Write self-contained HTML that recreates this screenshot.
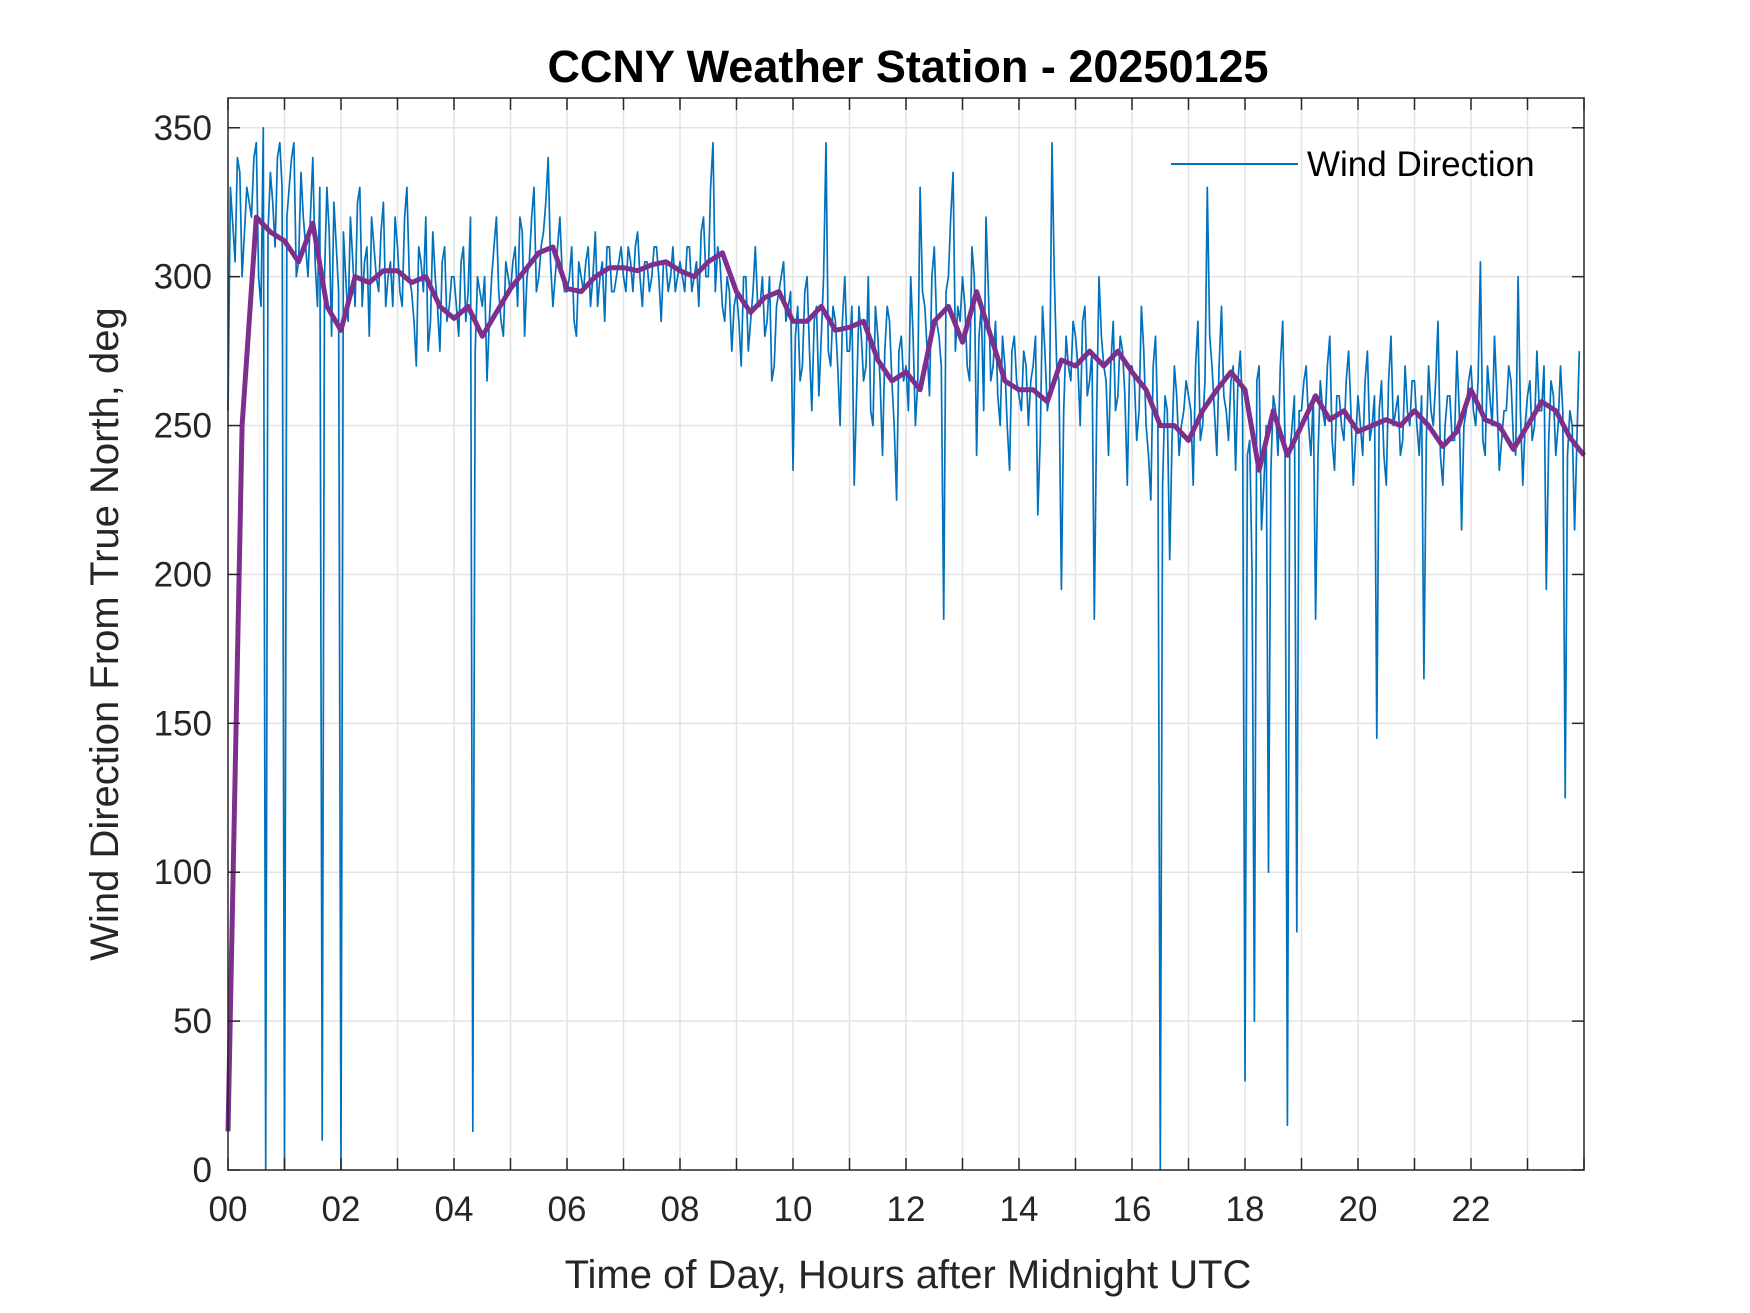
<!DOCTYPE html>
<html><head><meta charset="utf-8"><style>
html,body{margin:0;padding:0;background:#fff;}
svg{display:block;font-family:"Liberation Sans",Arial,sans-serif;}
</style></head><body>
<svg id="chart" width="1750" height="1313" viewBox="0 0 1750 1313" xmlns="http://www.w3.org/2000/svg">
<rect width="1750" height="1313" fill="#fff"/>
<text x="908" y="82" text-anchor="middle" font-size="45" font-weight="bold" fill="#000">CCNY Weather Station - 20250125</text>
<g id="grid"></g>
<g id="series"></g>
<g id="axes"></g>
<text x="908" y="1288" text-anchor="middle" font-size="40" fill="#262626">Time of Day, Hours after Midnight UTC</text>
<text transform="translate(118,634) rotate(-90)" text-anchor="middle" font-size="40" fill="#262626">Wind Direction From True North, deg</text>
<g>
<line x1="1171" y1="164" x2="1298" y2="164" stroke="#0072BD" stroke-width="2"/>
<text x="1307" y="176" font-size="35" fill="#000">Wind Direction</text>
</g>
</svg>
<script>
const rawValues = [
255,318,340,300,330,320,345,290,0,335,310,345,
0,330,345,305,320,300,340,290,10,330,280,310,
0,300,320,290,330,305,280,310,295,325,300,290,
310,290,330,295,270,305,320,285,300,275,310,290,
300,280,310,295,13,300,290,265,300,320,285,305,
295,310,320,280,305,330,300,315,340,290,310,300,
295,310,280,300,305,290,315,300,285,310,295,305,
300,310,295,315,290,305,300,310,285,305,300,295,
305,295,310,300,290,320,300,345,310,290,300,275,
295,270,300,285,310,290,280,300,270,295,305,290,
235,290,270,300,255,290,280,345,270,285,250,300,
275,230,290,265,300,250,280,240,290,265,225,280,
270,300,250,330,290,260,310,280,185,300,335,290,
300,270,310,240,290,320,265,285,250,270,235,280,
260,275,250,270,220,290,255,345,270,195,280,265,
280,250,290,265,185,300,270,240,285,260,275,230,
270,245,290,250,225,280,0,260,205,270,240,255,
260,230,285,250,330,270,240,290,255,265,235,275,
30,245,50,270,230,100,260,240,285,15,250,80,
255,270,240,185,265,250,280,235,260,245,275,230,
260,240,275,250,145,265,230,280,255,240,270,250,
265,240,165,270,250,285,230,260,245,275,215,255,
270,250,305,240,260,280,235,255,270,245,300,230,
260,245,275,255,195,265,240,270,125,255,215,275
];
const rawValuesMid = [
330,305,335,315,325,340,300,350,315,325,340,330,
320,340,300,335,310,320,305,330,300,315,325,295,
315,285,305,325,290,310,320,300,315,290,305,320,
295,320,300,285,310,295,275,315,290,305,285,300,
290,305,285,320,275,295,300,285,310,295,280,300,
305,290,315,300,320,295,310,325,305,300,320,295,
300,285,305,295,310,300,290,305,310,295,300,310,
295,305,310,300,305,295,310,300,305,295,310,300,
300,310,295,305,315,300,330,295,305,285,295,290,
285,300,275,295,290,300,285,265,290,300,285,295,
280,265,295,275,285,260,300,275,290,270,285,275,
290,260,280,270,255,290,265,275,285,250,275,265,
255,280,265,295,275,300,285,270,295,320,275,285,
290,265,300,280,255,295,270,260,280,250,275,265,
255,270,265,280,245,275,260,300,265,255,270,285,
270,285,260,275,255,280,265,270,255,280,260,270,
265,255,275,240,270,250,230,255,245,260,250,265,
255,270,245,265,280,255,270,260,245,270,265,255,
240,200,265,215,250,235,255,270,245,240,260,255,
265,250,260,240,255,270,245,260,250,265,255,245,
250,265,245,260,255,240,265,250,260,245,255,265,
250,260,245,255,265,240,250,260,245,255,250,265,
255,265,245,270,250,260,245,255,265,240,255,250,
265,250,255,270,245,260,250,255,240,250,245,235
];
const rawStepHours = 5/60;
const avgValues = [13,250,320,315,312,305,318,290,282,300,298,302,302,298,300,290,286,290,280,288,296,302,308,310,296,295,300,303,303,302,304,305,302,300,305,308,295,288,293,295,285,285,290,282,283,285,272,265,268,262,285,290,278,295,280,265,262,262,258,272,270,275,270,275,268,262,250,250,245,255,262,268,262,235,255,240,250,260,252,255,248,250,252,250,255,250,243,248,262,252,250,242,250,258,255,246,240];
const avgStepHours = 0.25;
const xTickLabels = ["00","02","04","06","08","10","12","14","16","18","20","22"];
const yTickValues = [0,50,100,150,200,250,300,350];

const L=228,R=1584,T=98,B=1170,XMAX=24,YMAX=360;
const xs=h=>L+(R-L)*h/XMAX;
const ys=v=>B-(B-T)*v/YMAX;
const NS="http://www.w3.org/2000/svg";
function mk(tag,attrs,parent){const e=document.createElementNS(NS,tag);for(const k in attrs)e.setAttribute(k,attrs[k]);parent.appendChild(e);return e;}
const grid=document.getElementById('grid'),axes=document.getElementById('axes'),series=document.getElementById('series');
for(let h=1;h<24;h++){const l=mk('line',{x1:xs(h),x2:xs(h),y1:T,y2:B,stroke:'#e3e3e3','stroke-width':1.5},grid);

}
yTickValues.forEach(v=>{if(v>0){const l=mk('line',{x1:L,x2:R,y1:ys(v),y2:ys(v),stroke:'#e3e3e3','stroke-width':1.5},grid);

}});
let d='';
rawValues.forEach((v,i)=>{
  d+=(i?'L':'M')+xs(i*rawStepHours).toFixed(1)+','+ys(v).toFixed(1);
  if(i<rawValues.length-1) d+='L'+xs((i+0.5)*rawStepHours).toFixed(1)+','+ys(rawValuesMid[i]).toFixed(1);
});
const p1=mk('path',{d:d,fill:'none',stroke:'#0072BD','stroke-width':1.7,'stroke-linejoin':'round'},series);


let d2='';avgValues.forEach((v,i)=>{d2+=(i?'L':'M')+xs(i*avgStepHours).toFixed(1)+','+ys(v).toFixed(1);});
const p2=mk('path',{d:d2,fill:'none',stroke:'#7E2F8E','stroke-width':5,'stroke-linejoin':'round'},series);


const box=mk('rect',{x:L,y:T,width:R-L,height:B-T,fill:'none',stroke:'#262626','stroke-width':1.5},axes);


for(let h=0;h<=24;h++){mk('line',{x1:xs(h),x2:xs(h),y1:B,y2:B-12,stroke:'#262626','stroke-width':1.5},axes);
mk('line',{x1:xs(h),x2:xs(h),y1:T,y2:T+12,stroke:'#262626','stroke-width':1.5},axes);}
xTickLabels.forEach((s,i)=>{const t=mk('text',{x:xs(i*2),y:B+51,'text-anchor':'middle','font-size':35,fill:'#262626'},axes);t.textContent=s;

});
yTickValues.forEach(v=>{mk('line',{x1:L,x2:L+12,y1:ys(v),y2:ys(v),stroke:'#262626','stroke-width':1.5},axes);
mk('line',{x1:R,x2:R-12,y1:ys(v),y2:ys(v),stroke:'#262626','stroke-width':1.5},axes);
const t=mk('text',{x:L-16,y:ys(v)+12,'text-anchor':'end','font-size':35,fill:'#262626'},axes);t.textContent=v;

});
</script>
</body></html>
